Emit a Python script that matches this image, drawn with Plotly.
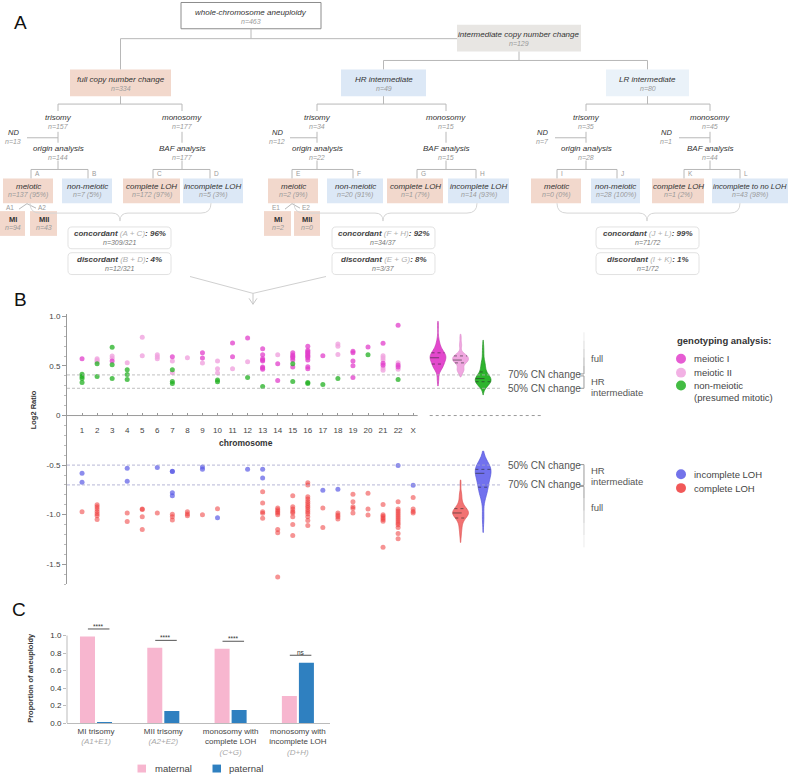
import numpy as np
import plotly.graph_objects as go

FONT = "Liberation Sans, Arial, sans-serif"
W, H = 788, 779

# ================= DATA =================
# ---- Panel A (flow diagram) ----
top_label, top_n = "whole-chromosome aneuploidy", 463
inter_label, inter_n = "intermediate copy number change", 129
group_labels = ["full copy number change", "HR intermediate", "LR intermediate"]
group_n = [334, 49, 80]
trisomy_n = [157, 34, 35]
monosomy_n = [177, 15, 45]
nd_trisomy_n = [13, 12, 7]
nd_monosomy_n = [None, None, 1]
origin_n = [144, 22, 28]
baf_n = [177, 15, 44]
meiotic_n = [137, 2, 0]
meiotic_pct = [95, 9, 0]
nonmeiotic_n = [7, 20, 28]
nonmeiotic_pct = [5, 91, 100]
complete_n = [172, 1, 1]
complete_pct = [97, 7, 2]
incomplete_n = [5, 14, 43]
incomplete_pct = [3, 93, 98]
incomplete_labels = ["incomplete LOH", "incomplete LOH", "incomplete to no LOH"]
branch_letters = [["A", "B", "C", "D"], ["E", "F", "G", "H"], ["I", "J", "K", "L"]]
mi_n = [94, 2]
mii_n = [43, 0]
sub_letters = [["A1", "A2"], ["E1", "E2"]]
concordant_terms = ["A + C", "F + H", "J + L"]
concordant_pct = [96, 92, 99]
concordant_frac = ["309/321", "34/37", "71/72"]
discordant_terms = ["B + D", "E + G", "I + K"]
discordant_pct = [4, 8, 1]
discordant_frac = ["12/321", "3/37", "1/72"]

# ---- Panel B (log2 ratio per chromosome) ----
chrom_labels = [str(i) for i in range(1, 23)] + ["X"]
meiotic1 = {
    "1": [0.573], "3": [0.55], "7": [0.593], "9": [0.633, 0.58], "11": [0.733, 0.593],
    "12": [0.783], "13": [0.673, 0.613, 0.573, 0.56, 0.55, 0.49, 0.48, 0.467],
    "14": [0.523, 0.353], "15": [0.633, 0.61, 0.595, 0.583, 0.56, 0.49],
    "16": [0.70, 0.66, 0.645, 0.633, 0.62, 0.607, 0.595, 0.583, 0.56, 0.493, 0.473],
    "17": [0.603], "19": [0.65, 0.633, 0.55, 0.503, 0.383], "20": [0.693],
    "21": [0.73, 0.527, 0.507], "22": [0.91, 0.51, 0.49],
}
meiotic2 = {
    "2": [0.573, 0.557, 0.543], "3": [0.60, 0.577], "4": [0.533], "5": [0.79, 0.603],
    "6": [0.613, 0.593, 0.573], "7": [0.55, 0.433], "8": [0.583], "9": [0.53],
    "10": [0.55, 0.473, 0.43], "11": [0.473], "12": [0.543], "14": [0.613],
    "18": [0.723, 0.70, 0.617], "21": [0.603, 0.583, 0.56, 0.48, 0.457], "22": [0.533, 0.467],
}
nonmeiotic = {
    "1": [0.417, 0.393, 0.373, 0.333], "2": [0.523, 0.393], "3": [0.69, 0.513, 0.373],
    "4": [0.463, 0.413, 0.363], "7": [0.463, 0.343, 0.323], "10": [0.36, 0.34],
    "12": [0.383], "13": [0.293], "15": [0.523, 0.343], "16": [0.333, 0.323],
    "17": [0.313], "18": [0.373], "20": [0.613], "22": [0.363],
}
incomplete_loh = {
    "1": [-0.583, -0.673], "4": [-0.533, -0.663], "6": [-0.523],
    "7": [-0.563, -0.565, -0.78, -0.81], "9": [-0.52, -0.543], "10": [-1.03],
    "12": [-0.543], "13": [-0.543, -0.63], "17": [-0.753], "18": [-0.743],
    "22": [-0.503], "X": [-0.703],
}
complete_loh = {
    "1": [-0.97], "2": [-0.90, -0.92, -0.943, -0.967, -0.99, -1.01, -1.05],
    "4": [-0.983, -1.07], "5": [-0.943, -0.947, -1.02, -1.15], "6": [-0.983],
    "7": [-0.997, -1.02, -1.053], "8": [-0.97, -0.993, -1.01], "9": [-1.0], "10": [-0.94],
    "13": [-0.77, -0.883, -0.97, -0.987, -1.037],
    "14": [-0.933, -0.95, -0.967, -0.983, -1.0, -1.15, -1.183, -1.63],
    "15": [-0.81, -0.92, -0.943, -0.967, -0.983, -1.02, -1.1, -1.21],
    "16": [-0.677, -0.70, -0.82, -0.843, -0.867, -0.887, -0.91, -0.927, -0.95, -0.97,
           -0.99, -1.02, -1.06, -1.11],
    "17": [-0.933, -1.13], "18": [-0.983, -1.003, -1.02, -1.043],
    "19": [-0.793, -0.87, -0.92, -0.937, -0.983], "20": [-0.783, -0.943, -1.003],
    "21": [-0.897, -1.0, -1.017, -1.033, -1.05, -1.067, -1.33],
    "22": [-0.87, -0.943, -0.963, -0.983, -1.003, -1.023, -1.043, -1.063, -1.083, -1.103,
           -1.13, -1.19, -1.243],
    "X": [-0.827, -0.943, -0.967, -0.983],
}
# violin extents (low, high)
span_meiotic1 = [0.30, 0.95]
span_meiotic2 = [0.39, 0.82]
span_nonmeiotic = [0.21, 0.76]
span_complete = [-1.28, -0.65]
span_incomplete = [-1.18, -0.36]
cn_upper = {"70% CN change": 0.41, "50% CN change": 0.275}
cn_lower = {"50% CN change": -0.5, "70% CN change": -0.70}

# ---- Panel C (parental origin) ----
c_tick_main = ["MI trisomy", "MII trisomy", "monosomy with<br>complete LOH",
               "monosomy with<br>incomplete LOH"]
c_tick_sub = ["(A1+E1)", "(A2+E2)", "(C+G)", "(D+H)"]
maternal = [0.99, 0.86, 0.85, 0.31]
paternal = [0.01, 0.14, 0.15, 0.69]
significance = ["****", "****", "****", "ns"]

# ================= STYLE =================
SALMON = "#f2d8cc"
BLUE = "#dce8f6"
LBLUE = "#eaf2f9"
GRAYBOX = "#e8e6e3"
LINE = "#b8b8b8"
TXT = "#333333"
NTXT = "#9a9a9a"
C_M1, C_M2, C_NM = "#e23fcb", "#f0a3df", "#22b022"
C_INC, C_COM = "#5b5be6", "#ee3b3b"
C_MAT, C_PAT = "#f7b6cf", "#2f80c0"

shapes, annotations = [], []


def X(p):
    return p / W


def Y(p):
    return 1 - p / H


def P(x, y):
    return f"{X(x):.5f},{Y(y):.5f}"


def seg(x0, y0, x1, y1, color=LINE, width=1, dash=None):
    ln = dict(color=color, width=width)
    if dash:
        ln["dash"] = dash
    shapes.append(dict(type="line", xref="paper", yref="paper", x0=X(x0), y0=Y(y0),
                       x1=X(x1), y1=Y(y1), line=ln))


def rect(x0, y0, x1, y1, fill, border=None):
    shapes.append(dict(type="rect", xref="paper", yref="paper", x0=X(x0), y0=Y(y0),
                       x1=X(x1), y1=Y(y1), fillcolor=fill, layer="below",
                       line=dict(color=border or fill, width=1 if border else 0)))


def pth(d, color=LINE, width=1, fill=None):
    s = dict(type="path", xref="paper", yref="paper", path=d, line=dict(color=color, width=width))
    if fill:
        s["fillcolor"] = fill
    shapes.append(s)


def txt(x, y, s, size=8, color=TXT, xanchor="center", angle=0):
    annotations.append(dict(xref="paper", yref="paper", x=X(x), y=Y(y), text=s, showarrow=False,
                            xanchor=xanchor, yanchor="middle", textangle=angle,
                            font=dict(family=FONT, size=size, color=color)))


def node(x, y, label, n, size=8):
    txt(x, y, f"<i>{label}</i>", size, TXT)
    txt(x, y + 9, f"<i>n={n}</i>", 7, NTXT)


def rrect(x0, y0, x1, y1, r=4, border="#e2e2e2"):
    d = (f"M {P(x0 + r, y0)} L {P(x1 - r, y0)} Q {P(x1, y0)} {P(x1, y0 + r)} "
         f"L {P(x1, y1 - r)} Q {P(x1, y1)} {P(x1 - r, y1)} L {P(x0 + r, y1)} "
         f"Q {P(x0, y1)} {P(x0, y1 - r)} L {P(x0, y0 + r)} Q {P(x0, y0)} {P(x0 + r, y0)} Z")
    pth(d, border, 1, "white")


# ================= PANEL A =================
txt(20, 21, "A", 19, "#111")
rect(181, 0.5, 321, 27, "white", "#8c8c8c")
node(251, 11, top_label, top_n)
seg(251, 27, 251, 37)
seg(120.5, 37, 457, 37)
seg(120.5, 37, 120.5, 68)
rect(457, 23, 581, 50, GRAYBOX)
node(519, 33, inter_label, inter_n)
seg(519, 50, 519, 59)
seg(383.5, 59, 647.5, 59)
seg(383.5, 59, 383.5, 68)
seg(647.5, 59, 647.5, 68)

COL = [
    dict(box=(70, 171), tri=58, mono=182, nd=(13, 27), ndm=None,
         mei=(3, 53), non=(62, 112), obr=(31, 88), comp=(123, 180), inc=(183, 243), bbr=(153, 210),
         mi=(0, 25), mii=(30, 57), sub=(10, 42), brace=(30, 211), bc=120, conc=(68, 171)),
    dict(box=(341, 426), tri=317, mono=446, nd=(277, 290), ndm=None,
         mei=(268, 318), non=(327, 383), obr=(292, 353), comp=(387, 443), inc=(448, 509), bbr=(417, 476),
         mi=(264, 291), mii=(294, 320), sub=(276, 306), brace=(294, 477), bc=383, conc=(332, 435)),
    dict(box=(606, 689), tri=586, mono=710, nd=(542, 555), ndm=(666, 679),
         mei=(531, 581), non=(591, 640), obr=(557, 617), comp=(652, 704), inc=(712, 788), bbr=(684, 740),
         mi=None, mii=None, sub=None, brace=(557, 740), bc=647, conc=(596, 699)),
]
group_fill = [SALMON, BLUE, LBLUE]

for i, g in enumerate(COL):
    cx = (g["box"][0] + g["box"][1]) / 2
    rect(g["box"][0], 68, g["box"][1], 95, group_fill[i])
    node(cx, 78, group_labels[i], group_n[i])
    tri, mono = g["tri"], g["mono"]
    seg(cx, 95, cx, 103)
    seg(tri, 103, mono, 103)
    seg(tri, 103, tri, 110)
    seg(mono, 103, mono, 110)
    node(tri, 117, "trisomy", trisomy_n[i])
    node(mono, 117, "monosomy", monosomy_n[i])
    seg(tri, 131, tri, 142)
    seg(mono, 131, mono, 142)
    seg(g["nd"][1], 137, tri, 137)
    node(g["nd"][0], 132, "ND", nd_trisomy_n[i], 7.5)
    if g["ndm"] is not None:
        seg(g["ndm"][1], 137, mono, 137)
        node(g["ndm"][0], 132, "ND", nd_monosomy_n[i], 7.5)
    node(tri, 148, "origin analysis", origin_n[i])
    node(mono, 148, "BAF analysis", baf_n[i])
    L = branch_letters[i]
    for (bx0, bx1), cxx, (la, lb) in [(g["obr"], tri, L[0:2]), (g["bbr"], mono, L[2:4])]:
        seg(cxx, 160, cxx, 169)
        seg(bx0, 169, bx1, 169)
        seg(bx0, 169, bx0, 178)
        seg(bx1, 169, bx1, 178)
        txt(bx0 + 1.5, 173, la, 6.5, NTXT, "left")
        txt(bx1 + 1.5, 173, lb, 6.5, NTXT, "left")
    level4 = [
        (g["mei"], SALMON, "meiotic", meiotic_n[i], meiotic_pct[i]),
        (g["non"], BLUE, "non-meiotic", nonmeiotic_n[i], nonmeiotic_pct[i]),
        (g["comp"], SALMON, "complete LOH", complete_n[i], complete_pct[i]),
        (g["inc"], BLUE, incomplete_labels[i], incomplete_n[i], incomplete_pct[i]),
    ]
    for (bx0, bx1), fill, lab, n, pct in level4:
        rect(bx0, 178, bx1, 203, fill)
        c = (bx0 + bx1) / 2
        sz = 8 if len(lab) < 16 else 7.6
        txt(c, 186, f"<i>{lab}</i>", sz, TXT)
        txt(c, 195, f"<i>n={n} ({pct}%)</i>", 7, NTXT)
    if g["mi"] is not None:
        s0, s1 = g["sub"]
        txt(s0, 207, sub_letters[i][0], 6.5, NTXT)
        txt(s1, 207, sub_letters[i][1], 6.5, NTXT)
        pk = (s0 + s1) / 2 + 1
        pth(f"M {P(s0 + 9, 209)} L {P(pk, 203.5)} L {P(s1 - 6, 208)}")
        for (bx0, bx1), lab, n in [(g["mi"], "MI", mi_n[i]), (g["mii"], "MII", mii_n[i])]:
            rect(bx0, 211, bx1, 236, SALMON)
            c = (bx0 + bx1) / 2
            txt(c, 219, f"<b>{lab}</b>", 7.5, TXT)
            txt(c, 228, f"<i>n={n}</i>", 7, NTXT)
    b0, b1 = g["brace"]
    bc = g["bc"]
    pth(f"M {P(b0, 203)} Q {P(b0, 213)} {P(b0 + 10, 213)} L {P(bc - 8, 213)} "
        f"Q {P(bc, 213)} {P(bc, 221)} Q {P(bc, 213)} {P(bc + 8, 213)} "
        f"L {P(b1 - 10, 213)} Q {P(b1, 213)} {P(b1, 203)}", "#d6d6d6", 1)
    k0, k1 = g["conc"]
    kc = (k0 + k1) / 2
    rrect(k0, 227, k1, 249)
    txt(kc, 234, f"<b><i>concordant</i></b> <i><span style='color:#b0b0b0'>({concordant_terms[i]})"
                 f"</span></i><b><i>: {concordant_pct[i]}%</i></b>", 8, "#444")
    txt(kc, 243, f"<i>n={concordant_frac[i]}</i>", 7, "#777")
    rrect(k0, 253, k1, 275)
    txt(kc, 260, f"<b><i>discordant</i></b> <i><span style='color:#b0b0b0'>({discordant_terms[i]})"
                 f"</span></i><b><i>: {discordant_pct[i]}%</i></b>", 8, "#444")
    txt(kc, 269, f"<i>n={discordant_frac[i]}</i>", 7, "#777")

# converging arrows to panel B
seg(190, 277, 253, 294, "#d0d0d0")
seg(326, 277, 253, 294, "#d0d0d0")
seg(253, 294, 253, 305, "#c8c8c8")
pth(f"M {P(249, 299)} L {P(253, 305)} L {P(257, 299)}", "#c8c8c8", 1)

# ================= PANEL B =================
txt(20, 300, "B", 19, "#111")
PX0, PXU = 67, 15.05          # pixel of x=0 and pixels per chromosome unit
Y0PX, PYU = 417.3, 100.0      # pixel of y=0 and pixels per log2 unit
XR = 35
YR = (-1.7, 1.02)


def chrom_xy(d):
    xs, ys = [], []
    for ch, vals in d.items():
        for v in vals:
            xs.append(chrom_labels.index(ch) + 1)
            ys.append(v)
    return xs, ys


traces = []
for d, col, op in [(meiotic2, C_M2, 0.8), (meiotic1, C_M1, 0.75), (nonmeiotic, C_NM, 0.75),
                   (complete_loh, C_COM, 0.55), (incomplete_loh, C_INC, 0.7)]:
    xs, ys = chrom_xy(d)
    traces.append(go.Scatter(x=xs, y=ys, mode="markers", showlegend=False, hoverinfo="skip",
                             marker=dict(size=5, color=col, opacity=op, line=dict(width=0)),
                             xaxis="x", yaxis="y"))

VW = 1.05
violins = [(meiotic1, span_meiotic1, 24.65, C_M1, "#c52fb0"),
           (meiotic2, span_meiotic2, 26.15, C_M2, "#e08ccf"),
           (nonmeiotic, span_nonmeiotic, 27.65, C_NM, "#1a901a"),
           (complete_loh, span_complete, 26.15, "#f26b6b", "#dd4a4a"),
           (incomplete_loh, span_incomplete, 27.65, "#6a6aee", "#4f4fd8")]
for d, span, pos, fcol, lcol in violins:
    _, vals = chrom_xy(d)
    v = np.asarray(vals, float)
    traces.append(go.Violin(x=[pos] * len(v), y=v, width=VW, fillcolor=fcol, opacity=0.95,
                            line=dict(color=lcol, width=0.7), points=False, spanmode="manual",
                            span=span, scalemode="width", showlegend=False, hoverinfo="skip",
                            xaxis="x", yaxis="y"))
    q1, med, q3 = np.percentile(v, [25, 50, 75])
    bw = 1.059 * min(v.std(ddof=1), (q3 - q1) / 1.349) * len(v) ** -0.2
    grid = np.linspace(span[0], span[1], 500)

    def kde(t):
        t = np.atleast_1d(t)
        return np.exp(-0.5 * ((t[:, None] - v[None, :]) / bw) ** 2).sum(1)

    dmax = kde(grid).max()
    for q, dash in [(q1, "dot"), (med, "dash"), (q3, "dot")]:
        hw = VW / 2 * kde(q)[0] / dmax
        shapes.append(dict(type="line", xref="x", yref="y", x0=pos - hw, x1=pos + hw, y0=q, y1=q,
                           line=dict(color="rgba(40,40,40,0.75)", width=0.8, dash=dash)))

# reference lines
for lab, yv in cn_upper.items():
    shapes.append(dict(type="line", xref="x", yref="y", x0=0, x1=28.9, y0=yv, y1=yv,
                       line=dict(color="#b0b0b0", width=0.8, dash="3px,2px")))
    annotations.append(dict(xref="x", yref="y", x=29.2, y=yv, text=lab, showarrow=False,
                            xanchor="left", yanchor="middle", font=dict(family=FONT, size=10, color="#555")))
for lab, yv in cn_lower.items():
    shapes.append(dict(type="line", xref="x", yref="y", x0=0, x1=28.9, y0=yv, y1=yv,
                       line=dict(color="#a4a4cc", width=0.8, dash="3px,2px")))
    annotations.append(dict(xref="x", yref="y", x=29.2, y=yv, text=lab, showarrow=False,
                            xanchor="left", yanchor="middle", font=dict(family=FONT, size=10, color="#555")))

# x-axis line at 0 plus dotted extension
shapes.append(dict(type="line", xref="x", yref="y", x0=0, x1=23.3, y0=0, y1=0,
                   line=dict(color="#9a9a9a", width=1)))
shapes.append(dict(type="line", xref="x", yref="y", x0=24.1, x1=31.6, y0=0, y1=0,
                   line=dict(color="#9a9a9a", width=1, dash="dot")))

# side brackets
BX, BH = 34.35, 34.05


def bline(x0, y0, x1, y1, color="#999"):
    shapes.append(dict(type="line", xref="x", yref="y", x0=x0, x1=x1, y0=y0, y1=y1,
                       line=dict(color=color, width=1)))


fade = ["#ececec", "#dcdcdc", "#c8c8c8", "#b0b0b0", "#999999"]
edges = np.linspace(0.84, 0.42, 6)
for k in range(5):
    bline(BX, edges[k], BX, edges[k + 1], fade[k])
bline(BX, 0.42, BH, 0.42)
bline(BH, 0.40, BX, 0.40)
bline(BX, 0.40, BX, 0.275)
bline(BX, 0.275, BH, 0.275)
bline(BH, -0.495, BX, -0.495)
bline(BX, -0.495, BX, -0.705)
bline(BX, -0.705, BH, -0.705)
bline(BH, -0.715, BX, -0.715)
edges = np.linspace(-0.715, -1.33, 6)
for k in range(5):
    bline(BX, edges[k], BX, edges[k + 1], fade[::-1][k])

for lab, yv in [("full", 0.573), ("HR", 0.346), ("intermediate", 0.232),
                ("HR", -0.554), ("intermediate", -0.662), ("full", -0.927)]:
    annotations.append(dict(xref="x", yref="y", x=34.7, y=yv, text=lab, showarrow=False,
                            xanchor="left", yanchor="middle", font=dict(family=FONT, size=9.5, color="#555")))

txt(33, 412, "<b>Log2 Ratio</b>", 7.5, "#333", angle=-90)
txt(246, 445, "<b>chromosome</b>", 8.5, "#333")

txt(675, 342, "<b>genotyping analysis:</b>", 9.5, "#333", "left")
for yy, col, lab in [(360, C_M1, "meiotic I"), (374, C_M2, "meiotic II"), (387, C_NM, "non-meiotic"),
                     (476.5, C_INC, "incomplete LOH"), (490.5, C_COM, "complete LOH")]:
    shapes.append(dict(type="circle", xref="paper", yref="paper", x0=X(676), x1=X(686),
                       y0=Y(yy + 5), y1=Y(yy - 5), fillcolor=col, line=dict(width=0),
                       opacity=0.85))
    txt(692, yy, lab, 9.5, "#444", "left")
txt(692, 399, "(presumed mitotic)", 9.5, "#444", "left")

# ================= PANEL C =================
txt(19, 613, "C", 19, "#111")
CX0, CXU = 96, 67.3
C0PX, CYU = 727.7, 88.4
for i in range(4):
    traces.append(go.Bar(x=[i], y=[maternal[i]], width=0.223, offset=-0.238, marker_color=C_MAT,
                         marker_line_width=0, showlegend=False, hoverinfo="skip",
                         xaxis="x2", yaxis="y2"))
    traces.append(go.Bar(x=[i], y=[paternal[i]], width=0.223, offset=0.015, marker_color=C_PAT,
                         marker_line_width=0, showlegend=False, hoverinfo="skip",
                         xaxis="x2", yaxis="y2"))
for i, s in enumerate(significance):
    top = max(maternal[i], paternal[i]) + 0.085
    shapes.append(dict(type="line", xref="x2", yref="y2", x0=i - 0.12, x1=i + 0.2, y0=top, y1=top,
                       line=dict(color="#555", width=1)))
    annotations.append(dict(xref="x2", yref="y2", x=i + 0.04, y=top, text=s, showarrow=False,
                            yanchor="bottom", yshift=-3,
                            font=dict(family=FONT, size=6.5, color="#333")))
shapes.append(dict(type="line", xref="paper", yref="y2", x0=X(67), x1=X(67), y0=0, y1=1.0,
                   line=dict(color="#bbbbbb", width=1)))
txt(31, 682, "<b>Proportion of aneuploidy</b>", 7.5, "#333", angle=-90)
rect(137.5, 769.5, 146, 777.5, C_MAT)
txt(153, 773.5, "maternal", 9.5, "#444", "left")
rect(212.5, 769.5, 221, 777.5, C_PAT)
txt(227, 773.5, "paternal", 9.5, "#444", "left")

c_ticktext = [f"{m}<br><i><span style='color:#a8a8a8'>{s}</span></i>"
              for m, s in zip(c_tick_main, c_tick_sub)]

fig = go.Figure(traces)
fig.update_layout(
    width=W, height=H, margin=dict(l=0, r=0, t=0, b=0),
    paper_bgcolor="white", plot_bgcolor="rgba(0,0,0,0)",
    font=dict(family=FONT, color="#444"),
    barmode="overlay", violinmode="overlay",
    shapes=shapes, annotations=annotations,
    xaxis=dict(domain=[X(PX0), X(PX0 + XR * PXU)], range=[0, XR], anchor="free",
               position=Y(Y0PX), tickmode="array", tickvals=list(range(1, 24)),
               ticktext=chrom_labels, ticks="inside", ticklen=3, tickcolor="#999",
               showline=False, showgrid=False, zeroline=False,
               tickfont=dict(size=8, color="#444"), ticklabelstandoff=8),
    yaxis=dict(domain=[Y(Y0PX - YR[0] * PYU), Y(Y0PX - YR[1] * PYU)], range=list(YR),
               anchor="x", showline=True, linecolor="#9a9a9a", linewidth=1,
               ticks="outside", ticklen=4, tickcolor="#9a9a9a",
               tickmode="array", tickvals=[-1.5, -1.0, -0.5, 0, 0.5, 1.0],
               ticktext=["-1.5", "-1.0", "-0.5", "0", "0.5", "1.0"],
               minor=dict(tickmode="linear", tick0=0, dtick=0.1, ticks="outside",
                          ticklen=2, tickcolor="#bbbbbb"),
               showgrid=False, zeroline=False, tickfont=dict(size=8, color="#444")),
    xaxis2=dict(domain=[X(67), X(330)], range=[(67 - CX0) / CXU, (330 - CX0) / CXU],
                anchor="y2", showline=True, linecolor="#bbbbbb", ticks="",
                tickmode="array", tickvals=[0, 1, 2, 3], ticktext=c_ticktext,
                showgrid=False, zeroline=False, tickfont=dict(size=8, color="#444")),
    yaxis2=dict(domain=[Y(C0PX), Y(C0PX - 1.12 * CYU)], range=[0, 1.12], anchor="x2",
                showline=False, ticks="outside", ticklen=3, tickcolor="#bbbbbb",
                tickmode="array", tickvals=[0, 0.2, 0.4, 0.6, 0.8, 1.0],
                ticktext=["0.0", "0.2", "0.4", "0.6", "0.8", "1.0"],
                showgrid=False, zeroline=False, tickfont=dict(size=8, color="#333")),
)
fig.write_html("out.html", config={"displayModeBar": False},
               post_script="document.body.style.margin='0';document.body.style.overflow='hidden';")
